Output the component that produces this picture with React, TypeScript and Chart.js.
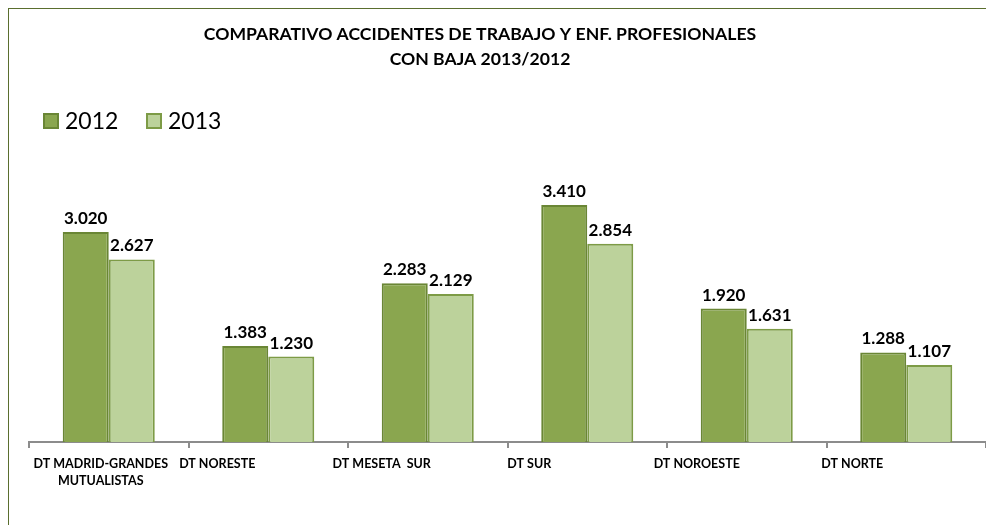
import React, { useEffect, useRef } from "react";
import { Chart, registerables } from "chart.js";

Chart.register(...registerables);

const TITLE_LINES = [
  "COMPARATIVO ACCIDENTES DE TRABAJO Y ENF. PROFESIONALES",
  "CON BAJA 2013/2012",
];
const CATEGORIES: string[][] = [
  ["DT MADRID-GRANDES", "MUTUALISTAS"],
  ["DT NORESTE"],
  ["DT MESETA  SUR"],
  ["DT SUR"],
  ["DT NOROESTE"],
  ["DT NORTE"],
];
const SERIES_NAMES = ["2012", "2013"];
const VALUES_2012 = [3020, 1383, 2283, 3410, 1920, 1288];
const VALUES_2013 = [2627, 1230, 2129, 2854, 1631, 1107];
const Y_MAX = 4000;

const FONT = "Lato, 'Liberation Sans', sans-serif";

const fmt = (v: number) => {
  const s = Math.round(v).toString();
  return s.replace(/\B(?=(\d{3})+(?!\d))/g, ".");
};

const titlePlugin = {
  id: "customTitle",
  afterDraw(chart: any) {
    const ctx = chart.ctx;
    ctx.save();
    ctx.fillStyle = "#000";
    ctx.font = `bold 17.6px ${FONT}`;
    ctx.textAlign = "center";
    ctx.textBaseline = "middle";
    ctx.fillText(TITLE_LINES[0], 471, 25);
    ctx.fillText(TITLE_LINES[1], 471, 50);
    ctx.restore();
  },
};

const legendPlugin = {
  id: "customLegend",
  afterDraw(chart: any) {
    const ctx = chart.ctx;
    const xs = [34, 137];
    ctx.save();
    ctx.font = `23px ${FONT}`;
    ctx.textAlign = "left";
    ctx.textBaseline = "middle";
    chart.data.datasets.forEach((ds: any, i: number) => {
      const x = xs[i];
      const y = 104;
      ctx.fillStyle = ds.backgroundColor;
      ctx.fillRect(x, y, 16, 16);
      ctx.strokeStyle = ds.borderColor;
      ctx.lineWidth = 2;
      ctx.strokeRect(x + 1, y + 1, 14, 14);
      ctx.fillStyle = "#000";
      ctx.fillText(ds.label, x + 22, y + 9);
    });
    ctx.restore();
  },
};

const xLabelPlugin = {
  id: "xLabels",
  afterDraw(chart: any) {
    const ctx = chart.ctx;
    const xScale = chart.scales.x;
    const shifts = [-8, -51, -46, -58, -50, -54];
    const base = chart.chartArea.bottom;
    ctx.save();
    ctx.fillStyle = "#000";
    ctx.font = `bold 12.5px ${FONT}`;
    ctx.textAlign = "center";
    ctx.textBaseline = "alphabetic";
    CATEGORIES.forEach((lines, i) => {
      const cx = xScale.getPixelForValue(i) + shifts[i];
      lines.forEach((line, j) => {
        ctx.fillText(line, cx, base + 26 + j * 17);
      });
    });
    ctx.restore();
  },
};

const dataLabelPlugin = {
  id: "dataLabels",
  afterDatasetsDraw(chart: any) {
    const ctx = chart.ctx;
    ctx.save();
    ctx.fillStyle = "#000";
    ctx.font = `bold 17px ${FONT}`;
    ctx.textAlign = "center";
    ctx.textBaseline = "alphabetic";
    chart.data.datasets.forEach((ds: any, di: number) => {
      const meta = chart.getDatasetMeta(di);
      meta.data.forEach((bar: any, i: number) => {
        ctx.fillText(fmt(ds.data[i]), bar.x, bar.y - 8);
      });
    });
    ctx.restore();
  },
};

export default function App() {
  const ref = useRef<HTMLCanvasElement>(null);
  useEffect(() => {
    if (!ref.current) return;
    const chart = new Chart(ref.current, {
      type: "bar",
      data: {
        labels: CATEGORIES.map((l) => l.join(" ")),
        datasets: [
          {
            label: SERIES_NAMES[0],
            data: VALUES_2012,
            backgroundColor: "#8aa64f",
            borderColor: "#6a8635",
            borderWidth: 2,
          },
          {
            label: SERIES_NAMES[1],
            data: VALUES_2013,
            backgroundColor: "#bcd29b",
            borderColor: "#7d9b46",
            borderWidth: 2,
          },
        ],
      },
      options: {
        animation: false,
        responsive: true,
        maintainAspectRatio: false,
        datasets: {
          bar: { barPercentage: 1, categoryPercentage: 0.577 },
        },
        layout: { padding: { top: 155, left: 20, right: 7, bottom: 77 } },
        plugins: {
          title: { display: false },
          tooltip: { enabled: false },
          legend: { display: false },
        },
        scales: {
          x: {
            offset: true,
            grid: {
              display: true,
              offset: true,
              drawOnChartArea: false,
              drawTicks: true,
              tickLength: 6,
              color: "#8c8c8c",
              lineWidth: 2,
            },
            border: { display: true, color: "#8c8c8c", width: 2 },
            ticks: { display: false },
          },
          y: {
            display: false,
            min: 0,
            max: Y_MAX,
            grid: { display: false },
          },
        },
      },
      plugins: [titlePlugin, legendPlugin, xLabelPlugin, dataLabelPlugin],
    });
    return () => chart.destroy();
  }, []);
  return (
    <div
      style={{
        position: "relative",
        width: 984,
        height: 516,
        marginLeft: -1,
        marginTop: -1,
        borderLeft: "2px solid #5a6e2e",
        borderTop: "2px solid #5a6e2e",
        background: "#fff",
      }}
    >
      <canvas ref={ref} />
    </div>
  );
}
